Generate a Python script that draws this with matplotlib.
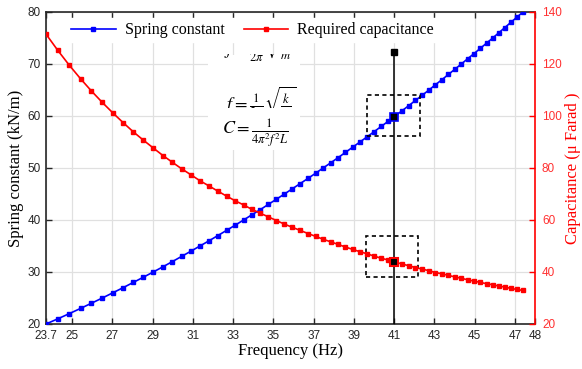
import matplotlib.pyplot as plt
from matplotlib.patches import Rectangle
from matplotlib.transforms import Bbox, TransformedBbox

plt.rcParams['font.family'] = 'Liberation Sans'
plt.rcParams['mathtext.fontset'] = 'stix'

# frequency (Hz) of each sample
freq = [23.70, 24.29, 24.86, 25.42, 25.96, 26.50, 27.02, 27.54, 28.04, 28.54,
        29.03, 29.51, 29.98, 30.44, 30.90, 31.35, 31.80, 32.24, 32.67, 33.10,
        33.52, 33.93, 34.35, 34.75, 35.15, 35.55, 35.94, 36.33, 36.72, 37.10,
        37.47, 37.85, 38.22, 38.58, 38.94, 39.30, 39.66, 40.01, 40.36, 40.71,
        41.05, 41.39, 41.73, 42.06, 42.40, 42.73, 43.05, 43.38, 43.70, 44.02,
        44.34, 44.65, 44.97, 45.28, 45.59, 45.90, 46.20, 46.50, 46.80, 47.10,
        47.40]
# spring constant (kN/m)
spring = [20, 21, 22, 23, 24, 25, 26, 27, 28, 29,
          30, 31, 32, 33, 34, 35, 36, 37, 38, 39,
          40, 41, 42, 43, 44, 45, 46, 47, 48, 49,
          50, 51, 52, 53, 54, 55, 56, 57, 58, 59,
          60, 61, 62, 63, 64, 65, 66, 67, 68, 69,
          70, 71, 72, 73, 74, 75, 76, 77, 78, 79,
          80]
# required capacitance (micro Farad)
cap = [131.5, 125.2, 119.5, 114.3, 109.6, 105.2, 101.2, 97.4, 93.9, 90.7,
       87.7, 84.8, 82.2, 79.7, 77.4, 75.1, 73.1, 71.1, 69.2, 67.4,
       65.8, 64.1, 62.6, 61.2, 59.8, 58.4, 57.2, 56.0, 54.8, 53.7,
       52.6, 51.6, 50.6, 49.6, 48.7, 47.8, 47.0, 46.1, 45.3, 44.6,
       43.8, 43.1, 42.4, 41.7, 41.1, 40.5, 39.8, 39.3, 38.7, 38.1,
       37.6, 37.0, 36.5, 36.0, 35.5, 35.1, 34.6, 34.2, 33.7, 33.3,
       32.9]

# selected operating point
f_sel = 41.0
k_sel = 59.86
c_sel = 43.9
k_top = 72.4

xticks = [23.7, 25, 27, 29, 31, 33, 35, 37, 39, 41, 43, 45, 47, 48]
xlabels = ['23.7', '25', '27', '29', '31', '33', '35', '37', '39', '41', '43', '45', '47', '48']
yticks_l = [20, 30, 40, 50, 60, 70, 80]
yticks_r = [20, 40, 60, 80, 100, 120, 140]

W, H = 582, 369
fig = plt.figure(figsize=(W / 100, H / 100), dpi=100)
ax = fig.add_axes([46 / W, 1 - 324 / H, 489 / W, 312 / H])
ax2 = ax.twinx()

dark = '#262626'
red = '#ff0000'
serif = 'Liberation Serif'

l1, = ax.plot(freq, spring, '-s', color='blue', lw=1.2, ms=3.5, label='Spring constant', zorder=3)
l2, = ax2.plot(freq, cap, '-s', color='red', lw=1.2, ms=3.5, label='Required capacitance', zorder=3)

# marker line and highlighted points
ax.plot([f_sel, f_sel], [20, k_top], color='black', lw=1.1, zorder=4)
ax.plot(f_sel, k_top, 's', color='black', ms=4.3, zorder=4)
ax.plot(f_sel, k_sel, 's', mfc='black', mec='blue', ms=5.4, mew=1.2, zorder=5)
ax2.plot(f_sel, c_sel, 's', mfc='black', mec='red', ms=5.6, mew=1.5, zorder=5)

ax.add_patch(Rectangle((39.65, 56.15), 2.64, 7.9, fill=False, ec='black',
                       lw=1.2, ls=(0, (2.5, 2)), zorder=4))
ax.add_patch(Rectangle((39.60, 29.0), 2.60, 7.9, fill=False, ec='black',
                       lw=1.2, ls=(0, (2.5, 2)), zorder=4))

ax.set_xlim(23.7, 48)
ax.set_ylim(20, 80)
ax2.set_ylim(20, 140)
ax.set_xticks(xticks)
ax.set_xticklabels(xlabels)
ax.set_yticks(yticks_l)
ax2.set_yticks(yticks_r)

ax.grid(True, color='#e0e0e0', lw=0.9)
ax.set_axisbelow(True)

ax.tick_params(direction='in', top=True, right=False, length=4, width=1,
               colors=dark, labelsize=8.5)
ax.tick_params(axis='x', pad=4)
ax.tick_params(axis='y', pad=4)
ax2.tick_params(direction='in', length=4, width=1, colors=red, labelsize=8.5, pad=5)
for lab in ax2.get_yticklabels():
    lab.set_color('#ff3030')

for s in ['left', 'bottom', 'top']:
    ax.spines[s].set_color(dark)
    ax.spines[s].set_linewidth(1.2)
ax.spines['right'].set_visible(False)
for s in ['left', 'bottom', 'top']:
    ax2.spines[s].set_visible(False)
ax2.spines['right'].set_color(red)
ax2.spines['right'].set_linewidth(1.2)

ax.set_xlabel('Frequency (Hz)', family=serif, fontsize=12, labelpad=1)
ax.set_ylabel('Spring constant (kN/m)', family=serif, fontsize=12, labelpad=2)
ax2.set_ylabel('Capacitance (\u03bc Farad )', family=serif, fontsize=12, color=red, labelpad=2)

leg = ax2.legend(handles=[l1, l2], loc='center', bbox_to_anchor=(0.422, 0.942), ncol=2,
                 prop={'family': serif, 'size': 11.5}, frameon=True, fancybox=False,
                 framealpha=1, edgecolor='white', handlelength=2.8, handletextpad=0.55,
                 columnspacing=1.2, borderpad=0.25)


def fx(x):
    return x / W


def fy(y):
    return 1 - y / H


def pxbox(x0, y0, x1, y1):
    return TransformedBbox(Bbox([[fx(x0), fy(y1)], [fx(x1), fy(y0)]]), fig.transFigure)


# white pasted equation box
fig.patches.append(Rectangle((fx(208), fy(150)), 92 / W, 95 / H, transform=fig.transFigure,
                             fc='white', ec='none', zorder=2))
formula_f = r'$f=\frac{1}{2\pi}\sqrt{\frac{k}{m}}$'
t1 = fig.text(fx(224), fy(47), formula_f, fontsize=13, va='center', ha='left', zorder=3)
t1.set_clip_on(True)
t1.set_clip_box(pxbox(200, 54, 320, 150))
t2 = fig.text(fx(224), fy(102), formula_f, fontsize=13, va='center', ha='left', zorder=3)
t2.set_clip_on(True)
t2.set_clip_box(pxbox(200, 60, 320, 108))
fig.text(fx(222), fy(133), r'$C=\frac{1}{4\pi^2f^2L}$', fontsize=13, va='center', ha='left', zorder=3)

fig.savefig('out.png', dpi=100)
